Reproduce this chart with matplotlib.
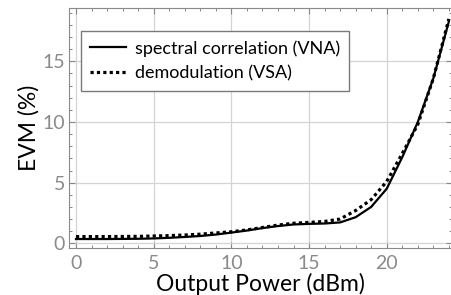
import matplotlib.pyplot as plt
from matplotlib.ticker import MultipleLocator

# output power (dBm) and EVM (%)
power = [0, 1, 2, 3, 4, 5, 6, 7, 8, 9, 10, 11, 12, 13, 14, 15, 16, 17, 18, 19, 20, 21, 22, 23, 24]
evm_vna = [0.35, 0.35, 0.35, 0.36, 0.37, 0.4, 0.45, 0.52, 0.6, 0.72, 0.88, 1.05, 1.25, 1.42, 1.55, 1.6,
           1.63, 1.72, 2.15, 3.0, 4.5, 7.1, 10.0, 13.6, 18.3]
evm_vsa = [0.55, 0.55, 0.55, 0.56, 0.57, 0.6, 0.63, 0.68, 0.75, 0.85, 0.95, 1.1, 1.3, 1.5, 1.65, 1.72,
           1.8, 2.0, 2.7, 3.6, 5.1, 7.4, 9.8, 13.6, 18.5]

labels = ["spectral correlation (VNA)", "demodulation (VSA)"]

plt.rcParams['font.family'] = ['Lato', 'DejaVu Sans']

fig = plt.figure(figsize=(4.52, 2.95), dpi=100)
ax = fig.add_axes([69 / 452, 47 / 295, 383 / 452, 240 / 295])

ax.plot(power, evm_vna, color='black', lw=1.6, label=labels[0])
ax.plot(power, evm_vsa, color='black', lw=2.3, linestyle=(0, (1, 1)), label=labels[1])

ax.set_xlim(-0.45, 24.2)
ax.set_ylim(-0.39, 19.4)
ax.xaxis.set_major_locator(MultipleLocator(5))
ax.xaxis.set_minor_locator(MultipleLocator(1))
ax.yaxis.set_major_locator(MultipleLocator(5))
ax.yaxis.set_minor_locator(MultipleLocator(1))
ax.grid(True, which='major', color='#d4d4d4', lw=0.9)
ax.set_axisbelow(True)

ax.tick_params(which='both', direction='in', top=True, right=True, colors='#888888',
               labelcolor='#8a8a8a', labelsize=14)
ax.tick_params(which='major', length=4, width=0.8)
ax.tick_params(which='minor', length=2.5, width=0.7)
ax.tick_params(axis='x', which='major', pad=5)
ax.tick_params(axis='y', which='major', pad=3)
for s in ax.spines.values():
    s.set_color('#8a8a8a')

ax.set_xlabel("Output Power (dBm)", fontsize=16.5, labelpad=1)
ax.set_ylabel("EVM (%)", fontsize=16.5, labelpad=2)

leg = ax.legend(loc='upper left', bbox_to_anchor=(0.031, 0.904), borderaxespad=0, fontsize=13,
                fancybox=False, edgecolor='#7a7a7a', framealpha=1, handlelength=2.0, handletextpad=0.5,
                borderpad=0.5, labelspacing=0.5)
leg.get_frame().set_linewidth(1.0)

fig.savefig("out.png", dpi=100)
